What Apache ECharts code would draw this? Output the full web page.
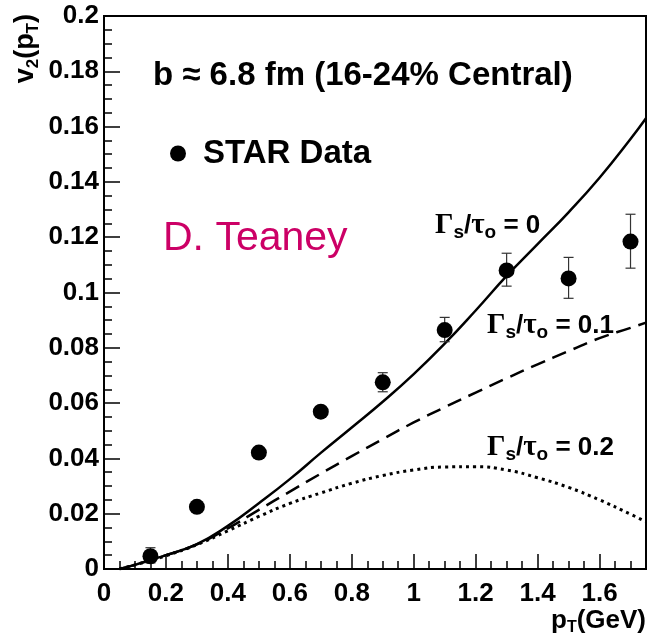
<!DOCTYPE html>
<html lang="en">

<head>
  <meta charset="UTF-8" />
  <meta name="viewport" content="width=device-width, initial-scale=1.0" />
  <title>v2(pT)</title>
  <script src="https://cdn.jsdelivr.net/npm/echarts@6/dist/echarts.min.js"></script>
</head>

<body style="margin: 0; overflow: hidden;">
  <div id="panel" style="width: 650px; height: 640px;"></div>
  <script>
    // STAR data points with error bars
    var ptData = [0.15, 0.3, 0.5, 0.7, 0.9, 1.1, 1.3, 1.5, 1.7];
    var v2Data = [0.0046, 0.0225, 0.0421, 0.0569, 0.0675, 0.0864, 0.1080, 0.1051, 0.1184];
    var v2Low = [0.0022, 0.0212, 0.0408, 0.0556, 0.0641, 0.0822, 0.1023, 0.0979, 0.1088];
    var v2High = [0.0077, 0.0238, 0.0434, 0.0582, 0.0710, 0.0910, 0.1142, 0.1127, 0.1283];

    // hydro curves
    var ptCurve = [0.05, 0.1, 0.15, 0.2, 0.3, 0.4, 0.5, 0.6, 0.7, 0.8, 0.9, 1.0, 1.1, 1.2, 1.3, 1.4, 1.5, 1.6, 1.7, 1.75];
    var ideal = [0, 0.0015, 0.0033, 0.0050, 0.0090, 0.0156, 0.0238, 0.0325, 0.0420, 0.0512, 0.0605, 0.0705, 0.0815, 0.0935, 0.1060, 0.1175, 0.1290, 0.1415, 0.1555, 0.1630];
    var visc01 = [0, 0.0015, 0.0032, 0.0050, 0.0089, 0.0147, 0.0214, 0.0280, 0.0345, 0.0408, 0.0470, 0.0530, 0.0585, 0.0638, 0.0690, 0.0740, 0.0788, 0.0835, 0.0872, 0.0891];
    var visc02 = [0, 0.0015, 0.0031, 0.0048, 0.0088, 0.0138, 0.0190, 0.0237, 0.0275, 0.0310, 0.0338, 0.0358, 0.0369, 0.0370, 0.0358, 0.0330, 0.0295, 0.0250, 0.0198, 0.0171];

    var xMax = 1.75, xStep = 0.2, xMinorStep = 0.05;
    var yMax = 0.2, yStep = 0.02;

    function pairs(xs, ys) {
      return xs.map(function (x, i) { return [x, ys[i]]; });
    }

    var font = 'Liberation Sans, Arial, sans-serif';
    var myChart = echarts.init(document.getElementById('panel'));

    var subRich = {
      g: { fontFamily: 'Liberation Serif, serif', fontSize: 29, fontWeight: 'bold', verticalAlign: 'middle' },
      s: { fontFamily: font, fontSize: 19, fontWeight: 'bold', padding: [14, 0, 0, 0], verticalAlign: 'middle' },
      n: { fontFamily: font, fontSize: 26, fontWeight: 'bold', verticalAlign: 'middle' }
    };

    function gammaLabel(x, y, val) {
      return {
        type: 'text', left: x, top: y,
        style: {
          text: '{g|Γ}{s|s}{n|/}{g|τ}{s|o}{n| = ' + val + '}',
          rich: subRich, fill: '#000'
        }
      };
    }

    var option = {
      animation: false,
      backgroundColor: '#fff',
      grid: {
        left: 104, right: 4, top: 16, bottom: 71,
        containLabel: false, outerBoundsMode: 'none',
        show: true, borderColor: '#000', borderWidth: 2
      },
      xAxis: [{
        type: 'value', min: 0, max: xMax, interval: xStep,
        axisLine: { lineStyle: { color: '#000', width: 2 } },
        axisTick: { inside: true, length: 15, lineStyle: { color: '#000', width: 1.5 } },
        axisLabel: {
          margin: 12, color: '#000', fontFamily: font, fontWeight: 'bold', fontSize: 26,
          showMaxLabel: false
        },
        splitLine: { show: false }
      }, {
        type: 'value', min: 0, max: xMax, interval: xMinorStep, position: 'bottom',
        axisLine: { show: false },
        axisTick: { inside: true, length: 8, lineStyle: { color: '#000', width: 1.5 } },
        axisLabel: { show: false },
        splitLine: { show: false }
      }],
      yAxis: {
        type: 'value', min: 0, max: yMax, interval: yStep,
        axisLine: { lineStyle: { color: '#000', width: 2 } },
        axisTick: { inside: true, length: 16, lineStyle: { color: '#000', width: 1.5 } },
        minorTick: { show: true, splitNumber: 4, length: 8, lineStyle: { color: '#000', width: 1.5 } },
        axisLabel: { margin: 5, color: '#000', fontFamily: font, fontWeight: 'bold', fontSize: 26 },
        splitLine: { show: false }
      },
      legend: {
        data: ['STAR Data'],
        left: 170, top: 137, padding: 0,
        icon: 'circle', itemWidth: 16, itemHeight: 16,
        textStyle: { color: '#000', fontFamily: font, fontWeight: 'bold', fontSize: 33, padding: [0, 0, 0, 12] }
      },
      graphic: [
        {
          type: 'text', left: 153, top: 59,
          style: { text: 'b ≈ 6.8 fm (16-24% Central)', fill: '#000', font: 'bold 33px ' + font }
        },
        {
          type: 'text', left: 163, top: 218,
          style: { text: 'D. Teaney', fill: '#cc0066', font: '41px ' + font }
        },
        gammaLabel(435, 211, '0'),
        gammaLabel(487, 311, '0.1'),
        gammaLabel(487, 433, '0.2'),
        {
          type: 'text', x: 26, y: 14, rotation: Math.PI / 2,
          style: {
            text: '{n|v}{s|2}{n|(p}{s|T}{n|)}', align: 'right', verticalAlign: 'middle', fill: '#000',
            rich: {
              n: { fontFamily: font, fontSize: 27, fontWeight: 'bold', verticalAlign: 'middle' },
              s: { fontFamily: font, fontSize: 17, fontWeight: 'bold', padding: [14, 0, 0, 0], verticalAlign: 'middle' }
            }
          }
        },
        {
          type: 'text', right: 4, top: 608,
          style: {
            text: '{n|p}{s|T}{n|(GeV)}', fill: '#000',
            rich: {
              n: { fontFamily: font, fontSize: 26, fontWeight: 'bold', verticalAlign: 'middle' },
              s: { fontFamily: font, fontSize: 16, fontWeight: 'bold', padding: [14, 0, 0, 0], verticalAlign: 'middle' }
            }
          }
        }
      ],
      series: [
        {
          name: 'ideal', type: 'line', data: pairs(ptCurve, ideal), smooth: true,
          showSymbol: false, lineStyle: { color: '#000', width: 2.5 }, z: 3
        },
        {
          name: 'visc01', type: 'line', data: pairs(ptCurve, visc01), smooth: true,
          showSymbol: false, lineStyle: { color: '#000', width: 2.5, type: [15, 8] }, z: 3
        },
        {
          name: 'visc02', type: 'line', data: pairs(ptCurve, visc02), smooth: true,
          showSymbol: false, lineStyle: { color: '#000', width: 3, type: [3, 4] }, z: 3
        },
        {
          name: 'errors', type: 'custom', z: 4,
          data: ptData.map(function (x, i) { return [x, v2Low[i], v2High[i]]; }),
          renderItem: function (params, api) {
            var lo = api.coord([api.value(0), api.value(1)]);
            var hi = api.coord([api.value(0), api.value(2)]);
            var w = 5;
            var st = { stroke: '#333', lineWidth: 1.2 };
            return {
              type: 'group', children: [
                { type: 'line', shape: { x1: lo[0], y1: lo[1], x2: hi[0], y2: hi[1] }, style: st },
                { type: 'line', shape: { x1: lo[0] - w, y1: lo[1], x2: lo[0] + w, y2: lo[1] }, style: st },
                { type: 'line', shape: { x1: hi[0] - w, y1: hi[1], x2: hi[0] + w, y2: hi[1] }, style: st }
              ]
            };
          }
        },
        {
          name: 'STAR Data', type: 'scatter', data: pairs(ptData, v2Data), z: 5,
          symbol: 'circle', symbolSize: 16, itemStyle: { color: '#000', opacity: 1 }
        }
      ]
    };

    myChart.setOption(option);

    window.addEventListener('resize', function () {
      myChart.resize();
    });
  </script>
</body>

</html>
